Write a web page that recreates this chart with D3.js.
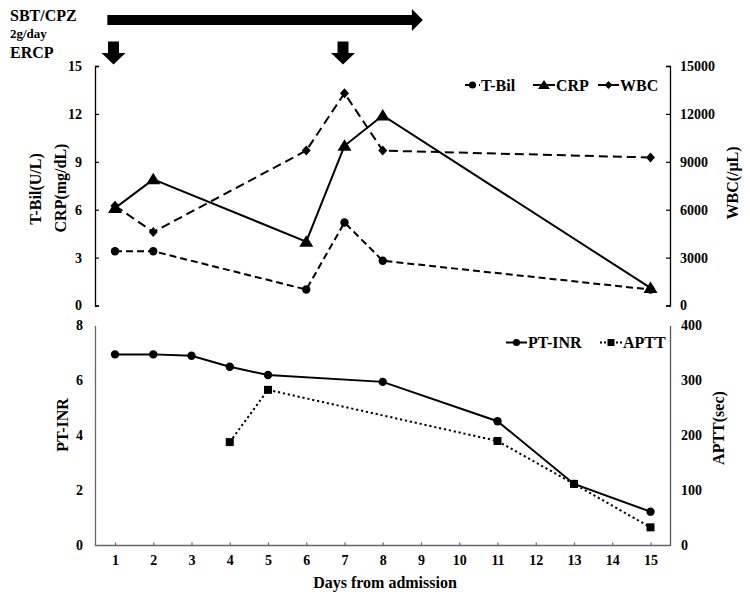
<!DOCTYPE html>
<html>
<head>
<meta charset="utf-8">
<script src="https://cdn.jsdelivr.net/npm/d3@7"></script>
<style>
  body { margin: 0; background: #fff; }
  svg text { font-family: "Liberation Serif", "Times New Roman", serif; font-weight: bold; fill: #000; }
</style>
</head>
<body>
<svg id="chart" width="750" height="598"></svg>
<script>
// data
var days = [1, 2, 3, 4, 5, 6, 7, 8, 9, 10, 11, 12, 13, 14, 15];

var tbilDays = [1, 2, 6, 7, 8, 15];
var tbil = [3.4, 3.4, 1.0, 5.2, 2.8, 1.0];

var crpDays = [1, 2, 6, 7, 8, 15];
var crp = [6.1, 7.9, 4.0, 10.0, 11.9, 1.1];

var wbcDays = [1, 2, 6, 7, 8, 15];
var wbc = [6250, 4600, 9700, 13300, 9700, 9270];

var inrDays = [1, 2, 3, 4, 5, 8, 11, 13, 15];
var inr = [6.95, 6.95, 6.9, 6.5, 6.2, 5.95, 4.52, 2.24, 1.23];

var apttDays = [4, 5, 11, 13, 15];
var aptt = [188, 283, 190, 112, 33];

var topLeftTicks = [0, 3, 6, 9, 12, 15];
var topRightTicks = [0, 3000, 6000, 9000, 12000, 15000];
var botLeftTicks = [0, 2, 4, 6, 8];
var botRightTicks = [0, 100, 200, 300, 400];

var ercpDays = [1, 7];
var sbtSpan = [0.8, 9.05];

var svg = d3.select("#chart");

var x = d3.scaleLinear().domain([1, 15]).range([115, 650.5]);
var axL = 95, axR = 670;

// top panel scales
var yTL = d3.scaleLinear().domain([0, 15]).range([305.5, 66]);
var yTR = d3.scaleLinear().domain([0, 15000]).range([305.5, 66]);
// bottom panel scales
var yBL = d3.scaleLinear().domain([0, 8]).range([545.5, 325.5]);
var yBR = d3.scaleLinear().domain([0, 400]).range([545.5, 325.5]);

function styleAxis(g, col) {
	g.select(".domain").attr("stroke", col).attr("stroke-width", 1.3);
	g.selectAll(".tick line").attr("stroke", col).attr("stroke-width", 1.2);
	g.selectAll(".tick text").style("font-size", "14px").attr("fill", "#000");
	g.attr("font-family", null).attr("font-size", null);
}

// top axes
svg.append("g").attr("transform", "translate(" + axL + ",0)")
	.call(d3.axisLeft(yTL).tickValues(topLeftTicks).tickSize(-4).tickPadding(13))
	.call(styleAxis, "#000");
svg.append("g").attr("transform", "translate(" + axR + ",0)")
	.call(d3.axisRight(yTR).tickValues(topRightTicks).tickFormat(d3.format("d")).tickSize(-4).tickPadding(10))
	.call(styleAxis, "#000");

// bottom axes
svg.append("g").attr("transform", "translate(" + axL + ",0)")
	.call(d3.axisLeft(yBL).tickValues(botLeftTicks).tickSize(0).tickPadding(12))
	.call(styleAxis, "#666");
svg.append("g").attr("transform", "translate(" + axR + ",0)")
	.call(d3.axisRight(yBR).tickValues(botRightTicks).tickSize(0).tickPadding(11))
	.call(styleAxis, "#555");
var xg = svg.append("g").attr("transform", "translate(0,545.5)")
	.call(d3.axisBottom(x).tickValues(days).tickFormat(d3.format("d")).tickSizeInner(-3).tickSizeOuter(0).tickPadding(10))
	.call(styleAxis, "#666");
xg.select(".domain").attr("d", "M" + axL + ",0H" + axR);

// axis titles
function vlabel(txt, cx, cy) {
	svg.append("text")
		.attr("transform", "translate(" + cx + "," + cy + ") rotate(-90)")
		.attr("text-anchor", "middle").attr("dy", "0.35em")
		.style("font-size", "16px").text(txt);
}
vlabel("T-Bil(U/L)", 35, 189);
vlabel("CRP(mg/dL)", 60, 188);
vlabel("WBC(/\u03bcL)", 732, 183);
vlabel("PT-INR", 62, 425);
vlabel("APTT(sec)", 718, 428);

svg.append("text").attr("x", 385).attr("y", 588).attr("text-anchor", "middle")
	.style("font-size", "16px").text("Days from admission");

// header
svg.append("text").attr("x", 10).attr("y", 21).style("font-size", "16px").text("SBT/CPZ");
svg.append("text").attr("x", 10).attr("y", 38).style("font-size", "13px").text("2g/day");
svg.append("text").attr("x", 10).attr("y", 57.5).style("font-size", "16px").text("ERCP");

// antibiotic arrow
var ax0 = x(sbtSpan[0]), ax1 = x(sbtSpan[1]);
svg.append("path")
	.attr("d", "M" + ax0 + ",15H" + (ax1 - 11) + "V9L" + ax1 + ",20L" + (ax1 - 11) + ",31V25H" + ax0 + "Z")
	.attr("fill", "#000");

// ERCP arrows
svg.selectAll(".ercp").data(ercpDays).enter().append("path")
	.attr("class", "ercp")
	.attr("d", function(d) {
		var cx = x(d) - 1.5;
		return "M" + (cx - 5.5) + ",41.5H" + (cx + 5.5) + "V53H" + (cx + 12) + "L" + cx + ",64.5L" + (cx - 12) + ",53H" + (cx - 5.5) + "Z";
	})
	.attr("fill", "#000");

// series helper
function series(xs, ys, yScale, dash, marker) {
	var pts = xs.map(function(d, i) { return [x(d), yScale(ys[i])]; });
	svg.append("path")
		.attr("d", d3.line()(pts))
		.attr("fill", "none").attr("stroke", "#000").attr("stroke-width", 2)
		.attr("stroke-dasharray", dash);
	svg.append("g").selectAll("path").data(pts).enter().append("path")
		.attr("transform", function(p) { return "translate(" + p[0] + "," + p[1] + ")"; })
		.attr("d", marker)
		.attr("fill", "#000");
}

var circleM = d3.symbol(d3.symbolCircle, 55)();
var triM = "M0,-6.5L7,5L-7,5Z";
var diaM = "M0,-5L4.5,0L0,5L-4.5,0Z";
var sqM = "M-4,-4H4V4H-4Z";

series(crpDays, crp, yTL, null, triM);
series(tbilDays, tbil, yTL, "7,4", circleM);
series(wbcDays, wbc, yTR, "9,5", diaM);
series(inrDays, inr, yBL, null, circleM);
series(apttDays, aptt, yBR, "2.2,2.8", sqM);

// legends
function legendItem(sx0, sx1, ty, dash, marker, label) {
	var g = svg.append("g");
	g.append("line").attr("x1", sx0).attr("x2", sx1).attr("y1", ty).attr("y2", ty)
		.attr("stroke", "#000").attr("stroke-width", 2).attr("stroke-dasharray", dash);
	g.append("path").attr("transform", "translate(" + (sx0 + sx1) / 2 + "," + ty + ")")
		.attr("d", marker).attr("fill", "#000");
	g.append("text").attr("x", sx1 + 1).attr("y", ty).attr("dy", "0.35em")
		.style("font-size", "16px").text(label);
}
legendItem(465, 480, 85, "4,3", d3.symbol(d3.symbolCircle, 40)(), "T-Bil");
legendItem(533, 555, 85, null, "M0,-5L6,4L-6,4Z", "CRP");
legendItem(598, 619, 85, null, "M0,-4L4,0L0,4L-4,0Z", "WBC");
legendItem(506, 527, 342.5, null, d3.symbol(d3.symbolCircle, 40)(), "PT-INR");
legendItem(600, 622, 342.5, "2,2", "M-3.5,-3.5H3.5V3.5H-3.5Z", "APTT");
</script>
</body>
</html>
